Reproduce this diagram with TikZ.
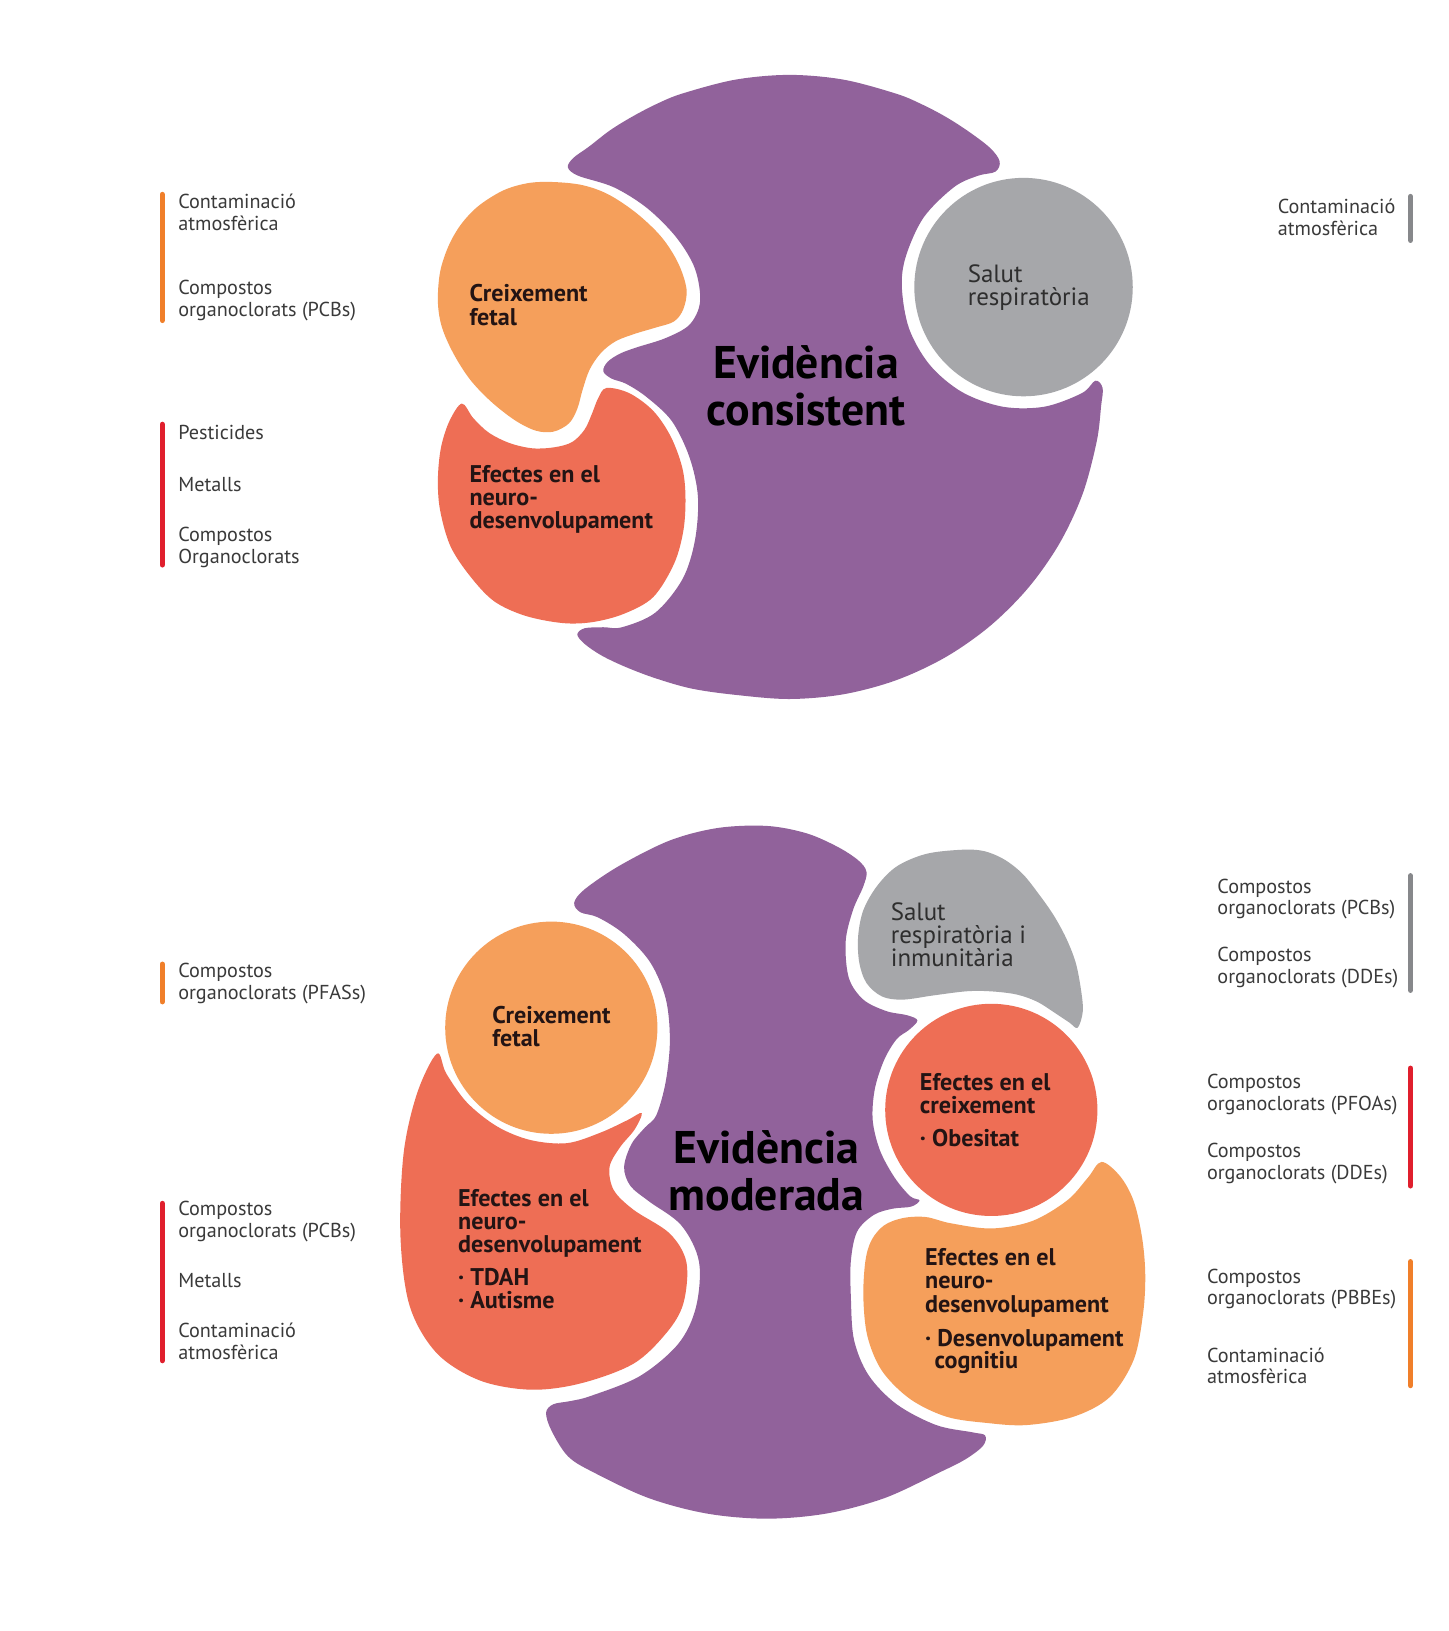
\documentclass[tikz,border=0pt]{standalone}
\usepackage{fontspec}
\setmainfont{PT Sans}
\definecolor{purp}{HTML}{91629B}
\definecolor{orb}{HTML}{F59F5B}
\definecolor{redb}{HTML}{EE6E55}
\definecolor{grayb}{HTML}{A6A7AA}
\definecolor{barO}{HTML}{F07F2A}
\definecolor{barR}{HTML}{E01F2D}
\definecolor{barG}{HTML}{87888B}
\definecolor{labc}{HTML}{3A3A3A}
\definecolor{boxc}{HTML}{231414}
\definecolor{grayt}{HTML}{2E2E2E}
\tikzset{
 lab/.style={font=\fontsize{9.7}{10.5}\selectfont, text=labc, anchor=base west, inner sep=0pt},
 bx/.style={font=\fontsize{11.6}{12}\selectfont\bfseries, text=boxc, anchor=base west, inner sep=0pt},
 bxg/.style={font=\fontsize{12}{12}\selectfont, text=grayt, anchor=base west, inner sep=0pt},
 big/.style={font=\fontsize{22}{22}\selectfont\bfseries, text=black, anchor=base, inner sep=0pt},
 bar/.style={line width=2.6pt, line cap=round},
 blob/.style={smooth cycle, tension=0.55},
}
\begin{document}
\begin{tikzpicture}[x=0.5pt,y=-0.5pt]
\fill[white] (0,0) rectangle (1393,1568);
\useasboundingbox (0,0) rectangle (1393,1568);

% ===== TOP DIAGRAM =====
\fill[purp] plot[blob] coordinates {
(759,72) (811,76.6) (861.6,90.1) (885.8,100.1) (909,112.2) (931,126.3) (951.8,142.2) (961,155) (957,165) (940,169) (917,180) (888,209) (871,246) (867,276) (874,316) (894,351) (925,377) (964,391) (1004,391) (1040,378) (1053,366) (1060,373) (1058.6,390) (1054.4,424.1) (1040.9,474.6) (1018.8,522) (988.8,564.8) (951.8,601.8) (909,631.8) (861.6,653.9) (811.1,667.4) (759,672) (706.9,668) (665,662) (630,652) (601,641) (578,630) (562,619) (555,610) (562,604) (580,603) (598,603) (630,589) (656,557) (668,520) (671,478) (663,440) (646,405) (622,382) (602,369) (588,364) (580,357) (584,348) (596,340) (612,334) (640,325) (663,312) (673,290) (668,258) (650,228) (622,200) (590,180) (556,169) (546,161) (551,152) (566.2,141) (586.9,125) (609,111.5) (632,99.6) (656.4,89.8) (706.9,76.6)};

\fill[orb] plot[blob] coordinates {
(532,175) (560,178) (585,187) (612,205) (636,228) (652,253) (660,278) (657,297) (648,309) (630,315) (610,321) (592,328) (578,339) (567,355) (560,375) (555,393) (547,407) (532,415) (515,414) (495,404) (472,386) (452,365) (436,340) (425,315) (421,291) (423,262) (431,237) (443,216) (460,198) (484,183) (508,176)};

\fill[redb] plot[blob] coordinates {
(583,373) (605,378) (628,395) (645,420) (656,450) (659,478) (657,510) (648,542) (628,574) (600,590) (570,598) (541,599) (505,592) (475,578) (452,554) (433,525) (423,490) (421,460) (424,430) (432,405) (444,388) (455,402) (470,416) (490,426) (512,431) (533,430) (550,425) (562,413) (569,398) (575,383)};

\fill[grayb] (984,276) circle[radius=52.5pt];

% texts top
\node[bx] (t1a) at (451,290) {Creixement};
\node[bx] (t1b) at (451,313) {fetal};
\node[bx] (t2a) at (451,464) {Efectes en el};
\node[bx] (t2b) at (451,486) {neuro-};
\node[bx] (t2c) at (451,508) {desenvolupament};
\node[bxg] (t3a) at (930,272) {Salut};
\node[bxg] (t3b) at (930,294) {respiratòria};
\node[big] (e1a) at (775,364) {Evidència};
\node[big] (e1b) at (775,409) {consistent};

% labels top
\draw[bar, barO] (156,187) -- (156,308);
\draw[bar, barR] (156,408) -- (156,543);
\draw[bar, barG] (1356,189) -- (1356,231);
\node[lab] (a1) at (171,200.5) {Contaminació};
\node[lab] (a2) at (171,221.5) {atmosfèrica};
\node[lab] (a3) at (171,283.5) {Compostos};
\node[lab] (a4) at (171,304.5) {organoclorats (PCBs)};
\node[lab] (a5) at (171,422.5) {Pesticides};
\node[lab] (a6) at (171,472.5) {Metalls};
\node[lab] (a7) at (171,520.5) {Compostos};
\node[lab] (a8) at (171,541.5) {Organoclorats};
\node[lab] (a9) at (1228,205.5) {Contaminació};
\node[lab] (a10) at (1228,226.5) {atmosfèrica};

% ===== BOTTOM DIAGRAM =====
\fill[purp] plot[blob] coordinates {
(737,794) (775,801) (805,814) (825,827) (833,838) (830,852) (820,875) (813,905) (816,940) (830,961) (852,972) (872,976) (882,981) (874,990) (862,999) (850,1019) (841,1047) (839,1077) (846,1106) (860,1132) (875,1150) (884,1154) (876,1160) (858,1162) (840,1168) (824,1184) (818,1212) (818,1247) (821,1288) (835,1322) (862,1350) (900,1370) (935,1377) (947,1380) (945,1390) (928,1403) (903.5,1415.4) (850.9,1440) (794.8,1455) (737,1460) (679.2,1455) (623.1,1440) (570.5,1415.4) (546,1400) (530,1375) (525,1358) (532,1350) (548,1347) (568,1342) (615,1323) (652,1292) (669,1257) (672,1213) (655,1178) (624,1155) (606,1140) (600,1122) (607,1100) (620,1084) (631,1072) (640,1040) (644,1000) (640,960) (625,925) (600,898) (575,882) (558,877) (552,868) (562,855) (596,832) (644,808) (690,796)};

\fill[orb] (530,988) circle[radius=51pt];
\fill[redb] (953,1067) circle[radius=51pt];

\fill[redb] plot[blob] coordinates {
(420,1013) (429,1032) (449,1060) (478,1083) (510,1096) (545,1099) (577,1089) (603,1077) (617,1070) (610,1086) (596,1103) (586,1122) (590,1144) (609,1163) (644,1186) (660,1214) (657,1253) (641,1281) (609,1311) (558,1330) (510,1336) (461,1327) (420,1301) (394,1256) (385,1189) (388,1109) (401,1051)};

\fill[grayb] plot[blob] coordinates {
(923,817) (945,818) (965,826) (983,840) (999,860) (1013,880) (1025,902) (1034,925) (1039,950) (1041,972) (1036,988) (1028,983) (1016,975) (997,963) (977,956) (952,953) (929,953) (897,957) (868,961) (848,958) (833,945) (826,925) (825,900) (830,875) (843,852) (862,833) (890,821)};

\fill[orb] plot[blob] coordinates {
(1059,1117) (1077,1131) (1090,1155) (1098,1190) (1101,1225) (1099,1262) (1090,1307) (1067,1343) (1032,1362) (987,1370) (949,1368) (910,1362) (875,1345) (848,1318) (834,1285) (830,1247) (832,1212) (838,1192) (850,1178) (868,1171) (890,1170) (914,1176) (953,1181) (992,1174) (1026,1154) (1046,1132)};

% texts bottom
\node[bx] (b1a) at (473,984) {Creixement};
\node[bx] (b1b) at (473,1006) {fetal};
\node[bx] (b2a) at (440,1160) {Efectes en el};
\node[bx] (b2b) at (440,1182) {neuro-};
\node[bx] (b2c) at (440,1204) {desenvolupament};
\node[bx] (b2d) at (440,1236) {· TDAH};
\node[bx] (b2e) at (440,1258) {· Autisme};
\node[bxg] (b3a) at (856,885) {Salut};
\node[bxg] (b3b) at (856,907) {respiratòria i};
\node[bxg] (b3c) at (856,929) {inmunitària};
\node[bx] (b4a) at (884,1048) {Efectes en el};
\node[bx] (b4b) at (884,1070) {creixement};
\node[bx] (b4c) at (884,1102) {· Obesitat};
\node[bx] (b5a) at (889,1217) {Efectes en el};
\node[bx] (b5b) at (889,1239) {neuro-};
\node[bx] (b5c) at (889,1262) {desenvolupament};
\node[bx] (b5d) at (889,1294) {· Desenvolupament};
\node[bx] (b5e) at (898,1316) {cognitiu};
\node[big] (e2a) at (737,1119) {Evidència};
\node[big] (e2b) at (737,1164) {moderada};

% labels bottom
\draw[bar, barO] (156,927) -- (156,963);
\draw[bar, barR] (156,1157) -- (156,1308);
\draw[bar, barG] (1356,842) -- (1356,952);
\draw[bar, barR] (1356,1027) -- (1356,1140);
\draw[bar, barO] (1356,1213) -- (1356,1332);
\node[lab] (c1) at (171,939.5) {Compostos};
\node[lab] (c2) at (171,960.5) {organoclorats (PFASs)};
\node[lab] (c3) at (171,1168.5) {Compostos};
\node[lab] (c4) at (171,1189.5) {organoclorats (PCBs)};
\node[lab] (c5) at (171,1237.5) {Metalls};
\node[lab] (c6) at (171,1285.5) {Contaminació};
\node[lab] (c7) at (171,1306.5) {atmosfèrica};
\node[lab] (d1) at (1170,858.5) {Compostos};
\node[lab] (d2) at (1170,879.5) {organoclorats (PCBs)};
\node[lab] (d3) at (1170,924.5) {Compostos};
\node[lab] (d4) at (1170,945.5) {organoclorats (DDEs)};
\node[lab] (d5) at (1160,1046.5) {Compostos};
\node[lab] (d6) at (1160,1067.5) {organoclorats (PFOAs)};
\node[lab] (d7) at (1160,1112.5) {Compostos};
\node[lab] (d8) at (1160,1133.5) {organoclorats (DDEs)};
\node[lab] (d9) at (1160,1233.5) {Compostos};
\node[lab] (d10) at (1160,1254.5) {organoclorats (PBBEs)};
\node[lab] (d11) at (1160,1309.5) {Contaminació};
\node[lab] (d12) at (1160,1330.5) {atmosfèrica};
\end{tikzpicture}
\end{document}
